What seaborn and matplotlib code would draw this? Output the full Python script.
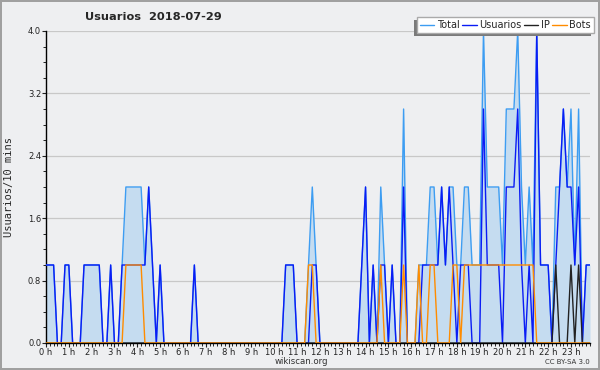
import matplotlib

matplotlib.use("Agg")
import matplotlib.pyplot as plt
import numpy as np
import pandas as pd
import seaborn as sns
from matplotlib.patches import Rectangle
from matplotlib.ticker import FixedLocator, FormatStrFormatter, MultipleLocator

# 10-minute slots of 2018-07-29 (144 slots)
usuarios = [
    1, 1, 1, 0, 0, 1, 1, 0, 0, 0, 1, 1, 1, 1, 1, 0, 0, 1, 0, 0,
    1, 1, 1, 1, 1, 1, 1, 2, 1, 0, 1, 0, 0, 0, 0, 0, 0, 0, 0, 1,
    0, 0, 0, 0, 0, 0, 0, 0, 0, 0, 0, 0, 0, 0, 0, 0, 0, 0, 0, 0,
    0, 0, 0, 1, 1, 1, 0, 0, 0, 0, 1, 1, 0, 0, 0, 0, 0, 0, 0, 0,
    0, 0, 0, 1, 2, 0, 1, 0, 1, 1, 0, 1, 0, 0, 2, 0, 0, 0, 0, 1,
    1, 1, 1, 1, 2, 1, 2, 1, 0, 1, 1, 1, 0, 0, 0, 3, 1, 1, 1, 1,
    0, 2, 2, 2, 3, 1, 0, 1, 0, 4, 1, 1, 1, 0, 1, 2, 3, 2, 2, 1,
    2, 0, 1, 1,
]
ip = [0] * 134 + [1, 0, 0, 0, 1, 0, 1, 0, 0, 0]
bots = (
    [0] * 21 + [1, 1, 1, 1, 1] + [0] * 43 + [1, 1] + [0] * 17
    + [1, 0, 0, 0, 0, 0, 1, 0, 0, 0, 1, 0, 0, 1, 1, 0, 0, 0, 0, 1, 1, 0, 1]
    + [1] * 18 + [0] * 15
)
total = [u + i + b for u, i, b in zip(usuarios, ip, bots)]

hours = [f"{h} h" for h in range(24)]
series_names = ["Total", "Usuarios", "IP", "Bots"]
colors = {"Total": "#3d9df2", "Usuarios": "#0a1cf5", "IP": "#222222", "Bots": "#ff8c00"}
fill_color = "#c5dcf0"
bg = "#eeeff1"

slot = np.arange(len(usuarios)) / 6.0
df = pd.DataFrame(
    {
        "hora": np.tile(slot, 4),
        "valor": total + usuarios + ip + bots,
        "serie": np.repeat(series_names, len(usuarios)),
    }
)

sns.set_style("ticks")
fig = plt.figure(figsize=(6, 3.7), dpi=100)
fig.patch.set_facecolor(bg)
fig.patch.set_edgecolor("#a0a0a0")
fig.patch.set_linewidth(1.5)
ax = fig.add_axes([46 / 600, 1 - 343 / 370, 544 / 600, 312 / 370])
ax.set_facecolor(bg)

ax.fill_between(slot, total, color=fill_color, linewidth=0, zorder=1)
sns.lineplot(
    data=df,
    x="hora",
    y="valor",
    hue="serie",
    hue_order=series_names,
    palette=colors,
    linewidth=1.0,
    ax=ax,
    legend=False,
    zorder=3,
)

ax.set_xlim(0, slot[-1])
ax.set_ylim(0, 4.0)
ax.yaxis.set_major_locator(MultipleLocator(0.8))
ax.yaxis.set_minor_locator(MultipleLocator(0.2))
ax.yaxis.set_major_formatter(FormatStrFormatter("%.1f"))
ax.xaxis.set_major_locator(FixedLocator(range(24)))
ax.xaxis.set_minor_locator(MultipleLocator(1 / 6))
ax.set_xticks(range(24), hours)
ax.tick_params(axis="both", which="major", labelsize=6, colors="#222222",
               length=3, width=0.8, pad=0.5)
ax.tick_params(axis="both", which="minor", length=2.2, width=0.7, color="#222222")
ax.grid(axis="y", color="#c8c8c8", linewidth=0.9)
ax.set_axisbelow(True)
for s in ["top", "right"]:
    ax.spines[s].set_visible(False)
for s in ["left", "bottom"]:
    ax.spines[s].set_color("black")
    ax.spines[s].set_linewidth(1.0)
ax.set_xlabel("")
ax.set_ylabel("Usuarios/10 mins", family="DejaVu Sans Mono", fontsize=7.5)
ax.yaxis.set_label_coords(-32 / 544, 0.5)

fig.text(85 / 600, 1 - 17 / 370, "Usuarios  2018-07-29", fontsize=8.2,
         fontweight="bold", ha="left", va="center")
fig.text(301 / 600, 1 - 362 / 370, "wikiscan.org", fontsize=6.2, ha="center",
         va="center", color="#333333")
fig.text(590 / 600, 1 - 362 / 370, "CC BY-SA 3.0", fontsize=5, ha="right",
         va="center", color="#333333")

handles = [plt.Line2D([], [], color=colors[n], linewidth=1.0) for n in series_names]
leg = fig.legend(
    handles,
    series_names,
    ncol=4,
    loc="upper right",
    bbox_to_anchor=(594 / 600, 1 - 17 / 370),
    fontsize=7,
    frameon=True,
    fancybox=False,
    handlelength=1.5,
    handletextpad=0.3,
    columnspacing=0.2,
    borderpad=0.3,
    borderaxespad=0,
)
leg.get_frame().set_edgecolor("#aaaaaa")
leg.get_frame().set_facecolor("white")
leg.get_frame().set_alpha(1)
leg.set_zorder(10)

# drop shadow to the lower left of the legend box
fig.canvas.draw()
bb = leg.get_window_extent().transformed(fig.transFigure.inverted())
fig.patches.append(
    Rectangle((bb.x0 - 3 / 600, bb.y0 - 3 / 370), bb.width, bb.height,
              transform=fig.transFigure, facecolor="#7a7a7a", edgecolor="none",
              zorder=9)
)

fig.savefig("out.png", dpi=100, facecolor=fig.get_facecolor(),
            edgecolor=fig.get_edgecolor())
plt.close(fig)
